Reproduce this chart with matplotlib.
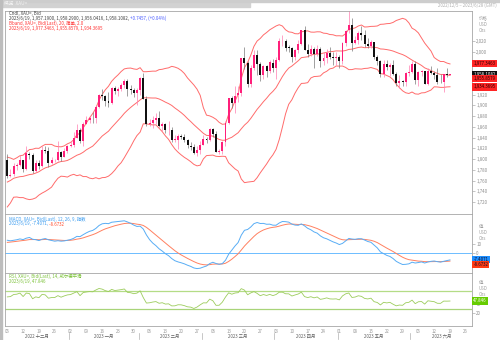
import numpy as np
import pandas as pd
import matplotlib
matplotlib.use("Agg")
import matplotlib.pyplot as plt
from matplotlib.patches import Rectangle
from matplotlib.transforms import blended_transform_factory

plt.rcParams['font.family'] = ['Noto Sans CJK SC', 'DejaVu Sans']

# XAU= daily bid candles, 2022/12/5 .. 2023/6/19
dates = pd.bdate_range("2022-12-05", "2023-06-19")
axis_dates = pd.bdate_range("2022-12-05", "2023-06-28")

opens = [1797.6, 1769.0, 1771.3, 1786.7, 1789.2, 1797.4, 1781.4, 1810.3, 1807.4, 1777.4,
         1792.8, 1787.5, 1817.5, 1814.4, 1792.4, 1797.8, 1798.3, 1813.8, 1804.4, 1815.0,
         1823.9, 1827.0, 1839.9, 1854.8, 1833.2, 1865.6, 1872.3, 1877.1, 1876.0, 1897.9,
         1920.1, 1916.6, 1909.0, 1904.3, 1932.1, 1926.3, 1931.3, 1937.5, 1946.0, 1929.9,
         1928.0, 1923.3, 1928.5, 1950.8, 1912.4, 1865.3, 1867.5, 1873.1, 1876.2, 1861.7,
         1865.2, 1853.4, 1854.8, 1835.9, 1836.4, 1842.2, 1841.2, 1834.8, 1825.2, 1822.6,
         1811.2, 1817.1, 1827.0, 1836.4, 1835.9, 1855.5, 1846.6, 1813.5, 1814.1, 1831.1,
         1868.0, 1913.4, 1904.1, 1918.5, 1923.0, 1988.4, 1978.1, 1940.7, 1970.1, 1993.2,
         1977.6, 1956.2, 1973.2, 1964.7, 1979.9, 1969.4, 1984.2, 2020.0, 2020.8, 2007.6,
         2007.4, 1990.2, 2003.1, 2015.0, 2040.2, 2003.9, 1995.1, 2004.9, 1995.1, 2004.5,
         1983.6, 1989.2, 1997.9, 1989.5, 1988.6, 1989.9, 1982.7, 2016.9, 2039.6, 2049.7,
         2017.0, 2021.4, 2034.5, 2030.3, 2014.8, 2011.0, 2017.2, 1989.3, 1982.1, 1958.0,
         1977.4, 1971.5, 1975.6, 1957.7, 1941.0, 1946.0, 1943.3, 1959.7, 1962.7, 1977.7,
         1948.0, 1961.6, 1963.3, 1940.3, 1964.9, 1961.0, 1957.4, 1943.5, 1942.8, 1958.0,
         1957.19]
highs = [1810.0, 1782.0, 1792.0, 1793.5, 1807.8, 1798.5, 1824.6, 1813.5, 1811.0, 1798.0,
         1799.0, 1823.5, 1824.0, 1823.0, 1804.0, 1800.5, 1833.0, 1815.0, 1820.5, 1827.0,
         1834.5, 1850.5, 1865.0, 1858.5, 1869.0, 1881.0, 1881.0, 1887.0, 1901.0, 1922.0,
         1930.0, 1920.0, 1924.5, 1935.0, 1937.0, 1935.0, 1942.0, 1949.0, 1949.5, 1938.0,
         1932.0, 1932.0, 1952.0, 1959.8, 1918.0, 1874.0, 1880.0, 1886.0, 1890.0, 1869.0,
         1868.0, 1870.0, 1859.0, 1845.0, 1846.0, 1847.0, 1847.0, 1838.0, 1831.0, 1828.0,
         1825.0, 1834.0, 1845.0, 1842.0, 1858.0, 1858.0, 1853.0, 1819.0, 1834.0, 1870.0,
         1914.0, 1917.0, 1937.0, 1937.0, 1989.0, 2009.7, 1983.0, 1975.0, 2003.0, 2003.5,
         1980.0, 1975.0, 1975.0, 1985.0, 1987.0, 1991.0, 2025.0, 2032.0, 2024.0, 2013.0,
         2008.0, 2005.0, 2022.0, 2041.0, 2048.7, 2015.0, 2012.0, 2008.0, 2013.0, 2009.0,
         1999.0, 2005.0, 2009.0, 2000.0, 1999.0, 1993.0, 2019.0, 2041.0, 2079.0, 2063.0,
         2029.0, 2038.0, 2048.0, 2041.0, 2025.0, 2021.0, 2018.0, 1994.0, 1985.0, 1984.0,
         1984.0, 1979.0, 1985.0, 1962.0, 1957.0, 1948.0, 1962.0, 1975.0, 1983.0, 1983.0,
         1965.0, 1966.0, 1964.0, 1970.0, 1974.0, 1964.0, 1970.0, 1958.0, 1958.0, 1969.0,
         1958.29]
lows = [1765.5, 1766.0, 1769.0, 1780.0, 1787.0, 1775.0, 1779.0, 1801.0, 1773.5, 1776.0,
        1781.0, 1785.0, 1811.0, 1784.5, 1790.0, 1795.0, 1797.0, 1796.0, 1803.0, 1812.0,
        1823.0, 1822.0, 1839.0, 1830.0, 1824.5, 1865.0, 1867.0, 1867.0, 1868.0, 1896.0,
        1910.0, 1898.0, 1897.0, 1902.0, 1922.0, 1918.0, 1926.0, 1932.0, 1918.0, 1921.0,
        1916.0, 1900.0, 1920.0, 1911.0, 1861.0, 1861.0, 1858.0, 1866.0, 1860.0, 1853.0,
        1848.0, 1844.0, 1831.0, 1831.0, 1818.0, 1838.0, 1832.0, 1820.0, 1817.0, 1809.0,
        1805.0, 1810.0, 1826.0, 1829.0, 1833.0, 1841.0, 1813.0, 1809.0, 1810.0, 1825.0,
        1866.0, 1895.0, 1886.0, 1907.0, 1918.0, 1968.0, 1934.0, 1935.0, 1966.0, 1957.0,
        1945.0, 1949.0, 1953.0, 1960.0, 1962.0, 1949.0, 1983.0, 2010.0, 2002.0, 1999.0,
        1981.0, 1985.0, 1998.0, 2012.0, 2003.0, 1991.0, 1992.0, 1969.0, 1992.0, 1972.0,
        1975.0, 1979.0, 1987.0, 1975.0, 1976.0, 1969.0, 1978.0, 2010.0, 2035.0, 2001.0,
        2015.0, 2015.0, 2022.0, 2008.0, 2007.0, 2007.0, 1986.0, 1975.0, 1952.0, 1952.0,
        1966.0, 1955.0, 1956.0, 1937.0, 1932.0, 1936.0, 1937.0, 1954.0, 1960.0, 1940.0,
        1937.0, 1954.0, 1939.0, 1938.0, 1958.0, 1950.0, 1940.0, 1941.0, 1925.0, 1952.0,
        1956.0416]
closes = [1768.9, 1771.2, 1786.6, 1789.1, 1797.5, 1781.3, 1810.4, 1807.5, 1777.3, 1792.7,
          1787.4, 1817.6, 1814.5, 1792.3, 1797.9, 1798.2, 1813.9, 1804.3, 1814.9, 1823.8,
          1826.9, 1839.8, 1854.9, 1833.1, 1865.5, 1872.2, 1877.0, 1875.9, 1897.8, 1920.0,
          1916.7, 1908.9, 1904.2, 1932.2, 1926.2, 1931.2, 1937.4, 1946.1, 1929.8, 1927.9,
          1923.2, 1928.4, 1950.7, 1912.5, 1865.2, 1867.4, 1873.0, 1876.3, 1861.6, 1865.3,
          1853.3, 1854.9, 1835.8, 1836.3, 1842.1, 1841.3, 1834.9, 1825.3, 1822.7, 1811.1,
          1817.0, 1826.9, 1836.5, 1835.8, 1855.6, 1846.7, 1813.6, 1814.0, 1831.0, 1867.9,
          1913.5, 1904.0, 1918.4, 1922.9, 1988.5, 1978.2, 1940.6, 1970.0, 1993.3, 1977.7,
          1956.1, 1973.3, 1964.6, 1980.0, 1969.3, 1984.1, 2019.9, 2020.9, 2007.7, 2007.5,
          1990.1, 2003.0, 2014.9, 2040.3, 2004.0, 1995.0, 2005.0, 1995.0, 2004.6, 1983.5,
          1989.1, 1998.0, 1989.6, 1988.5, 1990.0, 1982.6, 2016.8, 2039.5, 2049.8, 2016.9,
          2021.3, 2034.6, 2030.4, 2014.9, 2010.9, 2017.3, 1989.4, 1982.2, 1957.9, 1977.5,
          1971.4, 1975.7, 1957.8, 1940.9, 1946.1, 1943.2, 1959.6, 1962.6, 1977.8, 1947.9,
          1961.5, 1963.4, 1940.2, 1965.0, 1961.1, 1957.3, 1943.6, 1942.7, 1957.9, 1957.3625,
          1958.1082]

# closes 2022/11/8 .. 2022/12/2, the 19 bars of history the bands need
warmup_close = [1712, 1706, 1755, 1771, 1771, 1777, 1774, 1761, 1751, 1738,
                1740, 1750, 1755, 1755, 1741, 1749, 1768, 1803, 1797]

# readouts for the last bar
bband_last = [1977.3463, 1955.8579, 1934.3695]
macd_last = [-7.4071, -8.6732]
rsi_last = 47.846

price_ticks = list(range(1720, 2021, 20))
month_names = ["2022 十二月", "2023 一月", "2023 二月", "2023 三月",
               "2023 四月", "2023 五月", "2023 六月"]

# ---- indicators
n0 = len(warmup_close)
s = pd.Series(warmup_close + closes, dtype=float)
mid = s.rolling(20).mean()
sd = s.rolling(20).std(ddof=0)
upper, lower = mid + 2 * sd, mid - 2 * sd
macd = s.ewm(span=12, adjust=False).mean() - s.ewm(span=26, adjust=False).mean()
signal = macd.ewm(span=9, adjust=False).mean()
d = s.diff()
gain = d.clip(lower=0).ewm(alpha=1 / 14).mean()
loss = (-d.clip(upper=0)).ewm(alpha=1 / 14).mean()
rsi = 100 - 100 / (1 + gain / loss)
mid, upper, lower = mid[n0:].values, upper[n0:].values, lower[n0:].values
macd, signal, rsi = macd[n0:].values, signal[n0:].values, rsi[n0:].values

# ---- figure, laid out in pixels
W, H = 500, 340
fig = plt.figure(figsize=(W / 100, H / 100), dpi=100)


def box(x0, y0, x1, y1):
    return [x0 / W, 1 - y1 / H, (x1 - x0) / W, (y1 - y0) / H]


def px_text(x, y, txt, **kw):
    kw.setdefault("fontsize", 3.2)
    kw.setdefault("va", "center")
    return fig.text(x / W, 1 - y / H, txt, **kw)


def value_tags(a, tags, step):
    # stack the right-hand value tags so they never sit on top of each other
    prev, placed = None, []
    tr = a.get_yaxis_transform()
    for val, txt, fc, tc in sorted(tags, key=lambda t: -t[0]):
        pos = val if prev is None else min(val, prev - step)
        prev = pos
        placed.append(pos)
        a.text(1.003, pos, txt, transform=tr, fontsize=3.2, color=tc, va="center",
               ha="left", zorder=5, clip_on=False,
               bbox=dict(boxstyle="square,pad=0.25", fc=fc, ec="none"))
    return placed


fig.patches.append(Rectangle((0, 1 - 7 / H), 0.5, 7 / H, transform=fig.transFigure,
                             color="#d2d2d2", zorder=0))
fig.patches.append(Rectangle((0, 1 - 2 / H), 1, 2 / H, transform=fig.transFigure,
                             color="#cdcdcd", zorder=0))
fig.patches.append(Rectangle((0, 0), 1.5 / W, 1, transform=fig.transFigure,
                             color="#bdbdbd", zorder=0))
px_text(4, 3.8, "概览  XAU=", color="#f2f2f2", fontsize=3.4)
px_text(497, 5, "2022/12/5 – 2023/6/28 (GMT)", color="#b0b0b0", ha="right")

ax = fig.add_axes(box(5, 11, 472, 214))
axm = fig.add_axes(box(5, 214, 472, 273), sharex=ax)
axr = fig.add_axes(box(5, 273, 472, 326), sharex=ax)

x = np.arange(len(closes))
o, h, l, c = map(np.array, (opens, highs, lows, closes))
up = c >= o

for a in (ax, axm, axr):
    for sp in a.spines.values():
        sp.set_color("#a6a6a6")
        sp.set_linewidth(0.6)
    a.yaxis.tick_right()
    a.tick_params(axis="y", length=2, width=0.4, color="#999999", labelsize=3.2,
                  labelcolor="#8c8c8c", pad=1)
    a.tick_params(axis="x", length=0, labelbottom=False)

# candles + bollinger
ax.vlines(x, l, h, colors=np.where(up, "#ff7fb0", "#7a7a7a"), lw=0.5, zorder=2)
ax.bar(x, np.maximum(np.abs(c - o), 0.8), bottom=np.minimum(o, c), width=0.62,
       color=np.where(up, "#ff1f7a", "#111111"), lw=0, zorder=3)
for band in (upper, mid, lower):
    ax.plot(x, band, color="#ff6b6b", lw=0.7, zorder=1)
ax.set_ylim(1697.6, 2075.9)
ax.set_xlim(-0.73, 146.96)

tag_pos = value_tags(ax, [(bband_last[0], f"{bband_last[0]:,.4f}", "#ff2424", "#2a0000"),
                          (closes[-1], f"{closes[-1]:,.4f}", "#111111", "white"),
                          (bband_last[1], f"{bband_last[1]:,.4f}", "#ff2424", "#2a0000"),
                          (bband_last[2], f"{bband_last[2]:,.4f}", "#ff2424", "#2a0000")],
                     8.4)
# price labels that would sit under a tag are left out
shown = [v for v in price_ticks if min(abs(v - p) for p in tag_pos) > 9.3]
ax.set_yticks(price_ticks)
ax.set_yticklabels([f"{v:,}" if v in shown else "" for v in price_ticks])

chg = closes[-1] - closes[-2]
px_text(9, 13.5, "Cndl, XAU=, Bid", color="#404040")
t2 = px_text(9, 18.5, f"{dates[-1].year}/{dates[-1].month}/{dates[-1].day}, "
             f"{opens[-1]:,.4f}, {highs[-1]:,.4f}, {lows[-1]:,.4f}, {closes[-1]:,.4f},",
             color="#404040")
ax.annotate(f" {chg:+.4f}, ({chg / closes[-2] * 100:+.2f}%)", xy=(1, 0.5), xycoords=t2,
            va="center", fontsize=3.2, color="#4a5cff")
px_text(9, 23.5, "Bband, XAU=, Bid(Last), 20, 简单, 2.0", color="#ff3030")
px_text(9, 28.5, "2023/6/19, " + ", ".join(f"{v:,.4f}" for v in bband_last), color="#ff3030")
for i, lab in enumerate(["价格", "USD", "Ozs"]):
    px_text(479, 18 + 6 * i, lab, color="#a0a0a0")

# macd panel
axm.axhline(0, color="#6cbcff", lw=0.7, zorder=1)
axm.plot(x, macd, color="#58adf5", lw=0.7, zorder=3)
axm.plot(x, signal, color="#ff8060", lw=0.7, zorder=2)
axm.set_ylim(-22, 43)
axm.set_yticks([0, 10])
value_tags(axm, [(macd_last[0], f"{macd_last[0]:.4f}", "#1e8fff", "#101030"),
                 (macd_last[1], f"{macd_last[1]:.4f}", "#ff3a12", "#101030")], 5.2)
px_text(9, 219, "MACD, XAU=, Bid(Last), 12, 26, 9, 指数", color="#3b9cf0")
m2 = px_text(9, 224, "2023/6/19, -7.4071,", color="#3b9cf0")
axm.annotate(" -8.6732", xy=(1, 0.5), xycoords=m2, va="center", fontsize=3.2,
             color="#ff4a2a")
for i, lab in enumerate(["值", "USD", "Ozs"]):
    px_text(479, 226 + 6 * i, lab, color="#a0a0a0")

# rsi panel
axr.axhline(70, color="#b4dc86", lw=0.9, zorder=1)
axr.axhline(30, color="#a8d479", lw=0.9, zorder=1)
axr.plot(x, rsi, color="#9ccc5c", lw=0.6, zorder=2)
axr.set_ylim(-7.8, 110)
axr.set_yticks([20, 40])
value_tags(axr, [(rsi_last, f"{rsi_last:.3f}", "#66cc00", "white")], 10)
px_text(9, 276, "RSI, XAU=, Bid(Last), 14, 威尔德平滑", color="#7cc23a")
px_text(9, 281.5, "2023/6/19, 47.846", color="#7cc23a")
for i, lab in enumerate(["值", "USD", "Ozs"]):
    px_text(479, 283 + 6 * i, lab, color="#a0a0a0")

# date axis: mondays, then month names under them
mondays = [i for i, dt in enumerate(axis_dates) if dt.weekday() == 0]
axr.set_xticks(mondays)
axr.set_xticklabels([f"{axis_dates[i].day:02d}" for i in mondays])
axr.tick_params(axis="x", labelbottom=True, labelsize=3.2, labelcolor="#9a9a9a", pad=2)

btr = blended_transform_factory(axr.transData, axr.transAxes)
months = axis_dates.to_period("M")
lo, hi = axr.get_xlim()
for k, m in enumerate(months.unique()):
    idx = np.where(months == m)[0]
    a0, a1 = max(idx[0] - 0.5, lo), min(idx[-1] + 0.5, hi)
    axr.text((a0 + a1) / 2, -0.19, month_names[k], transform=btr, fontsize=3.2,
             color="#606060", ha="center", va="center", clip_on=False)
    if k > 0:
        axr.plot([idx[0] - 0.5] * 2, [-0.13, -0.25], transform=btr, color="#b0b0b0",
                 lw=0.5, clip_on=False)

fig.savefig("out.png", dpi=100)
